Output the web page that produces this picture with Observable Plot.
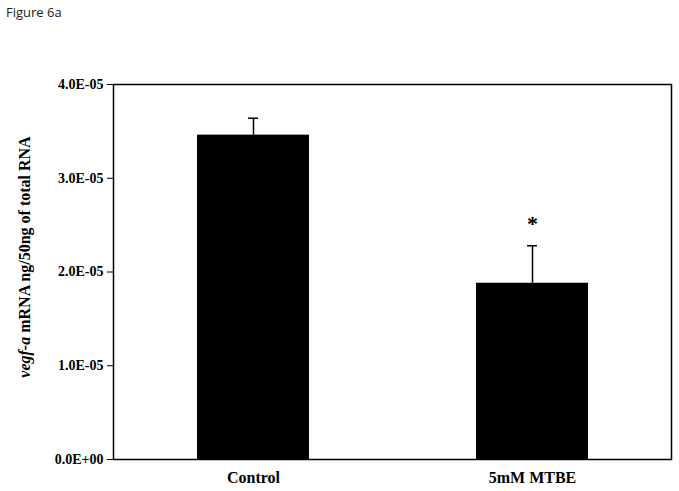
<!DOCTYPE html>
<html>
<head>
<meta charset="utf-8">
<script src="https://cdn.jsdelivr.net/npm/d3@7"></script>
<script src="https://cdn.jsdelivr.net/npm/@observablehq/plot@0.6"></script>
<style>
  body { margin: 0; background: #fff; }
  #wrap { position: relative; width: 679px; height: 491px; }
  #title { position: absolute; left: 6px; top: 3px; font-family: "Open Sans", sans-serif; font-size: 13px; color: #222; }
</style>
</head>
<body>
<div id="wrap">
  <div id="title">Figure 6a</div>
</div>
<script>
const groups = ["Control", "5mM MTBE"];
const means = [3.46e-5, 1.88e-5];
const errors = [0.18e-5, 0.40e-5];
const significance = ["", "*"];
const yTicks = [0, 1e-5, 2e-5, 3e-5, 4e-5];

const data = groups.map((g, i) => ({group: g, mean: means[i], top: means[i] + errors[i], sig: significance[i]}));

function fmtE(d) {
  const [m, e] = d.toExponential(1).split("e");
  const sign = e[0] === "-" ? "-" : "+";
  const n = Math.abs(+e);
  return m + "E" + sign + String(n).padStart(2, "0");
}

const serif = "'Liberation Serif', 'Times New Roman', serif";

const chart = Plot.plot({
  width: 679,
  height: 491,
  marginLeft: 113,
  marginRight: 8,
  marginTop: 84,
  marginBottom: 32,
  style: {fontFamily: serif, fontWeight: "bold", fontSize: "14px", color: "#000", background: "#fff"},
  x: {domain: groups, paddingInner: 0.6, paddingOuter: 0.3, label: null},
  y: {domain: [0, 4e-5], label: null},
  marks: [
    Plot.barY(data, {x: "group", y: "mean", fill: "#000"}),
    Plot.ruleX(data, {x: "group", y1: "mean", y2: "top", stroke: "#000", strokeWidth: 1.5}),
    Plot.tickY(data, {x: "group", y: "top", stroke: "#000", strokeWidth: 1.5, insetLeft: 51, insetRight: 51}),
    Plot.text(data, {x: "group", y: "top", text: "sig", dy: -22, fontSize: 22, fontWeight: "bold", fill: "#000"}),
    Plot.frame({stroke: "#000", strokeWidth: 1.5}),
    Plot.axisX({fontSize: 16, tickSize: 0, tickPadding: 12, label: null}),
    Plot.axisY({ticks: yTicks, tickFormat: fmtE, tickSize: 6, tickPadding: 4, label: null, fontSize: 14})
  ]
});

const svg = d3.select(chart);
const lab = svg.append("text")
  .attr("transform", "translate(30,257) rotate(-90)")
  .attr("text-anchor", "middle")
  .attr("font-family", serif)
  .attr("font-weight", "bold")
  .attr("font-size", 16)
  .attr("fill", "#000");
lab.append("tspan").attr("font-style", "italic").text("vegf-a");
lab.append("tspan").text(" mRNA ng/50ng of total RNA");

document.getElementById("wrap").prepend(chart);
</script>
</body>
</html>
